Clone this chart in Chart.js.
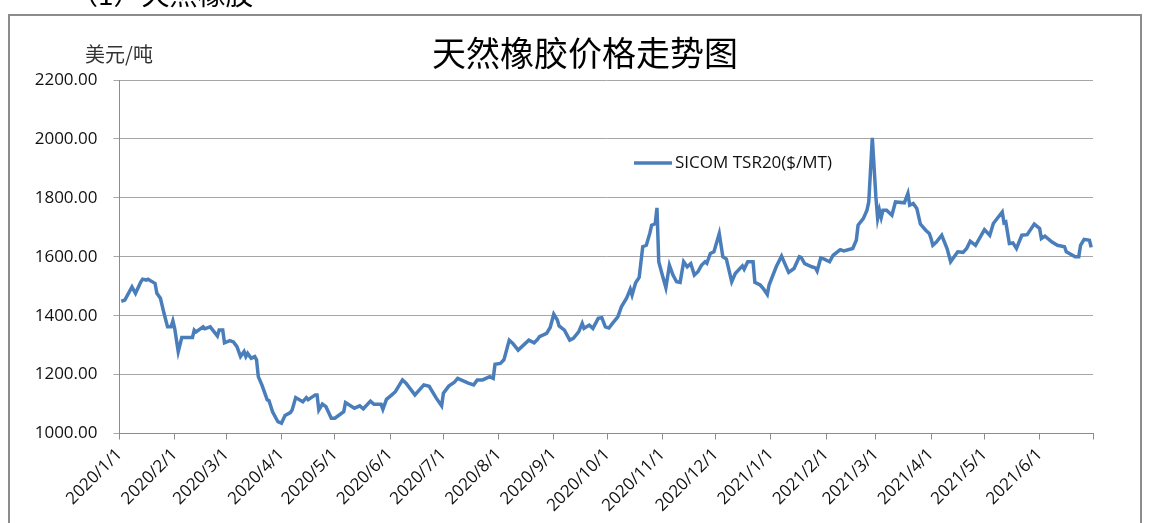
<!DOCTYPE html>
<html>
<head>
<meta charset="utf-8">
<script src="https://cdn.jsdelivr.net/npm/chart.js@4/dist/chart.umd.min.js"></script>
<style>
  html, body { margin: 0; padding: 0; background: #fff; }
  #wrap { position: relative; width: 1150px; height: 523px; }
</style>
</head>
<body>
<div id="wrap"><canvas id="rubber-chart" width="1150" height="523"></canvas></div>
<script>
// SICOM TSR20 daily price
const dates = [
  "2020-01-02", "2020-01-04", "2020-01-08", "2020-01-10", "2020-01-13", "2020-01-14", "2020-01-16", "2020-01-17",
  "2020-01-20", "2020-01-21", "2020-01-22", "2020-01-24", "2020-01-26", "2020-01-28", "2020-01-30", "2020-01-31",
  "2020-02-01", "2020-02-03", "2020-02-05", "2020-02-08", "2020-02-11", "2020-02-12", "2020-02-13", "2020-02-17",
  "2020-02-18", "2020-02-21", "2020-02-25", "2020-02-26", "2020-02-28", "2020-02-29", "2020-03-03", "2020-03-05",
  "2020-03-07", "2020-03-09", "2020-03-11", "2020-03-12", "2020-03-13", "2020-03-15", "2020-03-17", "2020-03-18",
  "2020-03-19", "2020-03-21", "2020-03-24", "2020-03-25", "2020-03-27", "2020-03-30", "2020-04-01", "2020-04-03",
  "2020-04-06", "2020-04-07", "2020-04-09", "2020-04-13", "2020-04-15", "2020-04-16", "2020-04-20", "2020-04-21",
  "2020-04-22", "2020-04-24", "2020-04-26", "2020-04-29", "2020-05-01", "2020-05-06", "2020-05-07", "2020-05-12",
  "2020-05-15", "2020-05-17", "2020-05-21", "2020-05-23", "2020-05-27", "2020-05-28", "2020-05-30", "2020-06-02",
  "2020-06-04", "2020-06-08", "2020-06-10", "2020-06-15", "2020-06-20", "2020-06-23", "2020-06-27", "2020-06-30",
  "2020-07-01", "2020-07-04", "2020-07-07", "2020-07-09", "2020-07-15", "2020-07-18", "2020-07-20", "2020-07-23",
  "2020-07-27", "2020-07-29", "2020-07-30", "2020-08-02", "2020-08-04", "2020-08-07", "2020-08-09", "2020-08-12",
  "2020-08-18", "2020-08-21", "2020-08-23", "2020-08-24", "2020-08-28", "2020-08-30", "2020-09-01", "2020-09-03",
  "2020-09-04", "2020-09-07", "2020-09-10", "2020-09-12", "2020-09-15", "2020-09-17", "2020-09-18", "2020-09-21",
  "2020-09-23", "2020-09-26", "2020-09-28", "2020-09-30", "2020-10-02", "2020-10-04", "2020-10-07", "2020-10-09",
  "2020-10-12", "2020-10-14", "2020-10-15", "2020-10-17", "2020-10-19", "2020-10-21", "2020-10-23", "2020-10-25",
  "2020-10-26", "2020-10-28", "2020-10-29", "2020-10-30", "2020-11-01", "2020-11-03", "2020-11-05", "2020-11-07",
  "2020-11-09", "2020-11-11", "2020-11-13", "2020-11-15", "2020-11-17", "2020-11-19", "2020-11-21", "2020-11-23",
  "2020-11-25", "2020-11-26", "2020-11-28", "2020-11-30", "2020-12-03", "2020-12-05", "2020-12-07", "2020-12-10",
  "2020-12-12", "2020-12-16", "2020-12-17", "2020-12-19", "2020-12-22", "2020-12-23", "2020-12-26", "2020-12-28",
  "2020-12-30", "2020-12-31", "2021-01-04", "2021-01-07", "2021-01-11", "2021-01-14", "2021-01-17", "2021-01-18",
  "2021-01-20", "2021-01-24", "2021-01-26", "2021-01-27", "2021-01-29", "2021-01-31", "2021-02-03", "2021-02-05",
  "2021-02-09", "2021-02-11", "2021-02-16", "2021-02-18", "2021-02-19", "2021-02-22", "2021-02-24", "2021-02-25",
  "2021-02-27", "2021-03-01", "2021-03-02", "2021-03-03", "2021-03-04", "2021-03-05", "2021-03-07", "2021-03-10",
  "2021-03-12", "2021-03-17", "2021-03-19", "2021-03-20", "2021-03-22", "2021-03-24", "2021-03-26", "2021-03-29",
  "2021-03-31", "2021-04-01", "2021-04-02", "2021-04-04", "2021-04-07", "2021-04-10", "2021-04-12", "2021-04-16",
  "2021-04-19", "2021-04-21", "2021-04-23", "2021-04-26", "2021-05-01", "2021-05-04", "2021-05-06", "2021-05-11",
  "2021-05-12", "2021-05-13", "2021-05-15", "2021-05-17", "2021-05-19", "2021-05-22", "2021-05-25", "2021-05-29",
  "2021-06-01", "2021-06-02", "2021-06-04", "2021-06-08", "2021-06-11", "2021-06-15", "2021-06-16", "2021-06-21",
  "2021-06-23", "2021-06-24", "2021-06-26", "2021-06-29", "2021-06-30"
];
const prices = [
  1449, 1453, 1498, 1476, 1515, 1524, 1521, 1524,
  1513, 1509, 1476, 1459, 1408, 1362, 1362, 1382,
  1357, 1278, 1326, 1326, 1326, 1351, 1345, 1362,
  1356, 1362, 1331, 1351, 1351, 1308, 1315, 1311,
  1295, 1261, 1278, 1261, 1272, 1255, 1261, 1250,
  1193, 1165, 1114, 1112, 1074, 1040, 1035, 1061,
  1071, 1080, 1122, 1108, 1122, 1115, 1131, 1131,
  1080, 1100, 1091, 1052, 1052, 1074, 1105, 1086,
  1094, 1084, 1110, 1099, 1099, 1082, 1116, 1131,
  1142, 1182, 1171, 1131, 1165, 1160, 1120, 1094,
  1137, 1161, 1173, 1187, 1171, 1165, 1182, 1182,
  1193, 1187, 1235, 1238, 1250, 1317, 1306, 1283,
  1317, 1308, 1320, 1329, 1340, 1360, 1405, 1385,
  1365, 1351, 1317, 1323, 1345, 1374, 1357, 1368,
  1357, 1391, 1393, 1362, 1358, 1374, 1396, 1430,
  1460, 1490, 1470, 1512, 1530, 1634, 1639, 1680,
  1707, 1712, 1766, 1583, 1538, 1495, 1571, 1538,
  1515, 1513, 1583, 1566, 1577, 1538, 1549, 1571,
  1583, 1578, 1611, 1617, 1679, 1600, 1592, 1515,
  1543, 1569, 1558, 1583, 1583, 1513, 1504, 1490,
  1472, 1504, 1566, 1602, 1547, 1560, 1600, 1598,
  1577, 1566, 1562, 1551, 1596, 1592, 1583, 1605,
  1624, 1620, 1628, 1656, 1707, 1730, 1758, 1786,
  2004, 1803, 1730, 1758, 1733, 1758, 1758, 1741,
  1786, 1783, 1815, 1775, 1781, 1764, 1711, 1690,
  1679, 1662, 1639, 1650, 1673, 1628, 1583, 1617,
  1615, 1628, 1653, 1639, 1692, 1673, 1713, 1752,
  1715, 1718, 1645, 1647, 1628, 1673, 1675, 1711,
  1696, 1662, 1670, 1650, 1639, 1634, 1617, 1600,
  1600, 1639, 1659, 1656, 1632
];

// month ticks on the date axis (the last one has no label)
const tickDates = [
  "2020-01-01", "2020-02-01", "2020-03-01", "2020-04-01", "2020-05-01", "2020-06-01", "2020-07-01",
  "2020-08-01", "2020-09-01", "2020-10-01", "2020-11-01", "2020-12-01", "2021-01-01", "2021-02-01",
  "2021-03-01", "2021-04-01", "2021-05-01", "2021-06-01", "2021-07-01"
];
const tickLabels = [
  "2020/1/1", "2020/2/1", "2020/3/1", "2020/4/1", "2020/5/1", "2020/6/1", "2020/7/1",
  "2020/8/1", "2020/9/1", "2020/10/1", "2020/11/1", "2020/12/1", "2021/1/1", "2021/2/1",
  "2021/3/1", "2021/4/1", "2021/5/1", "2021/6/1", ""
];

const seriesName = "SICOM TSR20($/MT)";
const chartTitle = "天然橡胶价格走势图";
const unitLabel = "美元/吨";
const sectionLabel = "（1）天然橡胶";

const yMin = 1000;
const yMax = 2200;
const yStep = 200;

function dayOffset(s) {
  const p = s.split("-").map(Number);
  return (Date.UTC(p[0], p[1] - 1, p[2]) - Date.UTC(2020, 0, 1)) / 86400000;
}

const points = dates.map((d, i) => ({ x: dayOffset(d), y: prices[i] }));
const tickValues = tickDates.map(dayOffset);

const lineColor = "#4a7ebb";
const latinFont = "'Open Sans', 'Liberation Sans', sans-serif";
const cjkFont = "'Noto Sans CJK SC', 'Noto Sans', sans-serif";

// frame, title, unit text and legend drawn on the canvas
const decorations = {
  id: "decorations",
  afterDraw(chart) {
    const ctx = chart.ctx;
    ctx.save();

    ctx.strokeStyle = "#8c8c8c";
    ctx.lineWidth = 2;
    ctx.strokeRect(9, 15, 1132, 520);

    ctx.fillStyle = "#000";
    ctx.textBaseline = "alphabetic";
    ctx.textAlign = "left";
    ctx.font = "28px " + cjkFont;
    ctx.fillText(sectionLabel, 70, 5);

    ctx.textAlign = "center";
    ctx.textBaseline = "middle";
    ctx.font = "34px " + cjkFont;
    ctx.fillText(chartTitle, 585, 53);

    ctx.font = "20px " + cjkFont;
    ctx.fillStyle = "#333";
    ctx.fillText(unitLabel, 119, 54);

    // legend
    const ds = chart.data.datasets[0];
    ctx.strokeStyle = ds.borderColor;
    ctx.lineWidth = 3.5;
    ctx.beginPath();
    ctx.moveTo(634, 163);
    ctx.lineTo(672, 163);
    ctx.stroke();
    ctx.textAlign = "left";
    ctx.fillStyle = "#111";
    ctx.font = "17px " + latinFont;
    ctx.fillText(ds.label, 675, 163);

    ctx.restore();
  }
};

const ctx = document.getElementById("rubber-chart").getContext("2d");

new Chart(ctx, {
  type: "line",
  data: {
    datasets: [
      {
        label: seriesName,
        data: points,
        borderColor: lineColor,
        borderWidth: 3.5,
        pointRadius: 0,
        tension: 0,
        fill: false,
      },
    ],
  },
  options: {
    responsive: false,
    animation: false,
    devicePixelRatio: 1,
    layout: { padding: { top: 80, right: 57, left: 0, bottom: 0 } },
    plugins: {
      legend: { display: false },
      tooltip: { enabled: false },
    },
    scales: {
      x: {
        type: "linear",
        min: tickValues[0],
        max: tickValues[tickValues.length - 1],
        afterBuildTicks(scale) {
          scale.ticks = tickValues.map((v) => ({ value: v }));
        },
        afterFit(scale) {
          scale.height = 89.5;
        },
        ticks: {
          autoSkip: false,
          maxRotation: 45,
          minRotation: 45,
          padding: 5,
          color: "#111",
          font: { family: latinFont, size: 17 },
          callback: (value, index) => tickLabels[index],
        },
        grid: {
          drawOnChartArea: false,
          drawTicks: true,
          tickLength: 6,
          color: "#8c8c8c",
        },
        border: { color: "#8c8c8c", width: 1 },
      },
      y: {
        min: yMin,
        max: yMax,
        afterFit(scale) {
          scale.width = 119.5;
        },
        ticks: {
          stepSize: yStep,
          padding: 16,
          color: "#111",
          font: { family: latinFont, size: 17 },
          callback: (value) => value.toFixed(2),
        },
        grid: {
          color: "#a6a6a6",
          tickLength: 6,
        },
        border: { color: "#8c8c8c", width: 1 },
      },
    },
  },
  plugins: [decorations],
});
</script>
</body>
</html>
